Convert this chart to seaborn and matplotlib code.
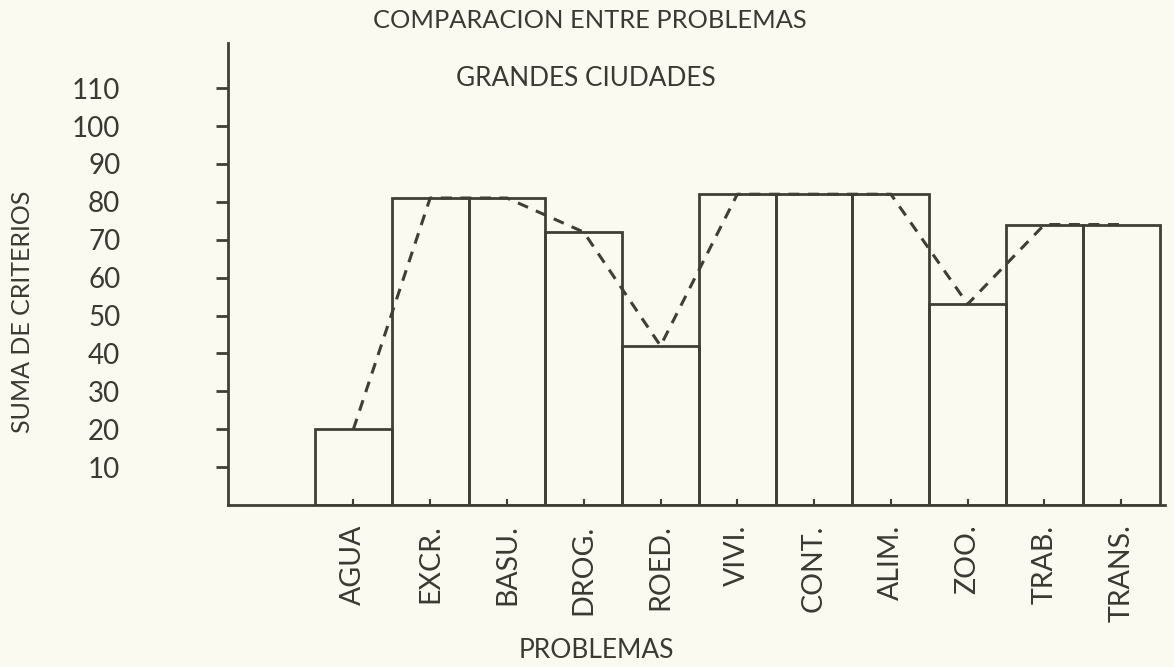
import numpy as np
import pandas as pd
import matplotlib
matplotlib.use("Agg")
import matplotlib.pyplot as plt
import seaborn as sns

# ---- data ----
categories = ["AGUA", "EXCR.", "BASU.", "DROG.", "ROED.", "VIVI.",
              "CONT.", "ALIM.", "ZOO.", "TRAB.", "TRANS."]
values = [20, 81, 81, 72, 42, 82, 82, 82, 53, 74, 74]
yticks = [10, 20, 30, 40, 50, 60, 70, 80, 90, 100, 110]

title = "COMPARACION ENTRE PROBLEMAS"
subtitle = "GRANDES CIUDADES"
xlabel = "PROBLEMAS"
ylabel = "SUMA DE CRITERIOS"

INK = "#3f3f36"
TEXT = "#3a3a32"
PAPER = "#fbfaf0"

sns.set_style("white")
plt.rcParams["font.family"] = ["Lato", "DejaVu Sans"]

df = pd.DataFrame({"problema": categories, "valor": values})

fig = plt.figure(figsize=(11.74, 6.67), dpi=100, facecolor=PAPER)
ax = fig.add_axes([228 / 1174, (667 - 505) / 667, (1165 - 228) / 1174, (505 - 43) / 667])
ax.set_facecolor(PAPER)

sns.barplot(data=df, x="problema", y="valor", width=1.0, fill=False,
            color=INK, linewidth=2.0, errorbar=None, ax=ax)
for p in ax.patches:
    p.set_facecolor("none")
    p.set_edgecolor(INK)
    p.set_linewidth(2.0)

sns.pointplot(data=df, x="problema", y="valor", color=INK, markers="",
              linestyles="--", linewidth=2.2, errorbar=None, ax=ax)
for ln in ax.lines:
    ln.set_dashes((3.6, 2.8))

ax.set_xlim(-1.633, 10.57)
ax.set_ylim(0, 121.9)

sns.despine(ax=ax)
for s in ["left", "bottom"]:
    ax.spines[s].set_color(INK)
    ax.spines[s].set_linewidth(2.0)

ax.set_yticks(yticks)
ax.set_yticklabels([str(v) for v in yticks])
ax.tick_params(axis="y", direction="out", length=8.5, width=2.0, color=INK,
               pad=69, labelsize=20, labelcolor=TEXT, left=True)
ax.tick_params(axis="x", direction="in", length=4, width=1.5, color=INK,
               pad=14, labelsize=20.5, labelcolor=TEXT, bottom=True,
               labelrotation=90)
for lab in ax.get_xticklabels():
    lab.set_va("top")
    lab.set_ha("center")

ax.set_xlabel("")
ax.set_ylabel("")
fig.text(590 / 1174, 1 - 21 / 667, title, ha="center", va="center",
         fontsize=18.3, color=TEXT)
fig.text(586 / 1174, 1 - 79 / 667, subtitle, ha="center", va="center",
         fontsize=18.8, color=TEXT)
fig.text(596 / 1174, 1 - 650 / 667, xlabel, ha="center", va="center",
         fontsize=19, color=TEXT)
fig.text(23 / 1174, 1 - 312 / 667, ylabel, ha="center", va="center",
         rotation=90, fontsize=18, color=TEXT)

fig.savefig("out.png", dpi=100, facecolor=PAPER)
